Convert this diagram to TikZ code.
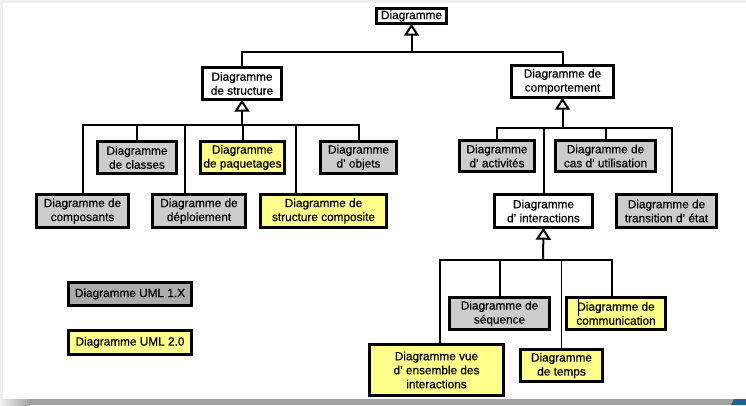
\documentclass[tikz,border=0pt]{standalone}
\usepackage{fontspec}
\setmainfont{Liberation Sans}
\newfontfamily\boxfont{Liberation Sans}[FakeBold=0.5]
\usetikzlibrary{arrows.meta}
\definecolor{umlgray}{HTML}{CCCCCC}
\definecolor{umlyellow}{HTML}{FFFF8C}
\definecolor{legendgray}{HTML}{ABABAB}
\definecolor{framegray}{HTML}{F0F0F0}
\definecolor{shadowgray}{HTML}{A2A2A2}
\definecolor{cornerblue}{HTML}{2B5F93}
\begin{document}
\begin{tikzpicture}[x=1pt,y=-1pt,
  box/.style={draw=black, line width=2.6pt, align=center, inner sep=0pt,
    outer sep=0pt, font=\boxfont\fontsize{11.8}{14}\selectfont},
  sz/.style 2 args={minimum width=#1pt-2.6pt, minimum height=#2pt-2.6pt},
  plain/.style={box, fill=white},
  old/.style={box, fill=umlgray},
  new/.style={box, fill=umlyellow},
  legold/.style={box, fill=legendgray},
  conn/.style={line width=2pt},
  thinconn/.style={line width=1.2pt},
  gen/.style={conn, -{Triangle[open, length=12pt, width=15pt]}}]
\useasboundingbox (0,0) rectangle (746,405);

% page frame
\fill[framegray] (0,0) rectangle (746,3);
\fill[framegray] (0,0) rectangle (3,399);
\fill[shadowgray] (0,399) rectangle (746,405);
\shade[left color=framegray, right color=shadowgray] (0,399) rectangle (30,405);
\fill[cornerblue] (731,405) -- (734,399) -- (746,399) -- (746,405) -- cycle;

% diagram kinds
\node[plain, sz={73}{18}] (top) at (411.5,16) {Diagramme};
\node[plain, sz={82}{35}] (struct) at (242,83.5) {Diagramme\\de structure};
\node[plain, sz={105}{35}] (behav) at (562.5,81.5) {Diagramme de\\comportement};

\node[old, sz={82}{35}] (classes) at (137,157.5) {Diagramme\\de classes};
\node[new, sz={87}{35}] (packages) at (242.5,157.5) {Diagramme\\de paquetages};
\node[old, sz={79}{35}] (objects) at (358.5,157.5) {Diagramme\\d’ objets};
\node[old, sz={95}{36}] (components) at (82.5,211) {Diagramme de\\composants};
\node[old, sz={96}{36}] (deploy) at (199,211) {Diagramme de\\déploiement};
\node[new, sz={129}{36}] (composite) at (323.5,211) {Diagramme de\\structure composite};

\node[old, sz={78}{34}] (activity) at (497,156) {Diagramme\\d’ activités};
\node[old, sz={103}{34}] (usecase) at (605.5,156) {Diagramme de\\cas d’ utilisation};
\node[plain, sz={101}{36}] (interact) at (543.5,211) {Diagramme\\d’ interactions};
\node[old, sz={103}{36}] (state) at (666.5,211) {Diagramme de\\transition d’ état};

\node[old, sz={103}{35}] (sequence) at (499.5,313.5) {Diagramme de\\séquence};
\node[new, sz={102}{35}] (comm) at (616,313.5) {Diagramme de\\communication};
\node[new, sz={137}{54}] (overview) at (436.5,370) {Diagramme vue\\d’ ensemble des\\interactions};
\node[new, sz={85}{35}] (timing) at (561.5,365.5) {Diagramme\\de temps};

% legend
\node[legold, sz={126}{26}] (leg1) at (130,294) {Diagramme UML 1.X};
\node[new, sz={126}{27}] (leg2) at (130,342.5) {Diagramme UML 2.0};

% text cursor in the communication box
\draw[line width=0.7pt] ([shift={(12,2)}]comm.north west) -- ++(0,17);

% generalisation: Diagramme
\coordinate (busT) at (411.5,52);
\draw[gen] (busT) -- (top.south);
\draw[conn] (struct.north) |- (busT);
\draw[conn] (behav.north) |- (busT);

% generalisation: structure
\coordinate (busS) at (242,125);
\draw[gen] (busS) -- (struct.south);
\draw[conn] (components.north) |- (busS);
\draw[conn] (classes.north) |- (busS);
\draw[conn] ([xshift=-14pt]deploy.north) |- (busS);
\draw[conn] (packages.north) |- (busS);
\draw[conn] ([xshift=-27.5pt]composite.north) |- (busS);
\draw[conn] (objects.north) |- (busS);

% generalisation: comportement
\coordinate (busB) at (562.5,128);
\draw[gen] (busB) -- (behav.south);
\draw[conn] (activity.north) |- (busB);
\draw[conn] (interact.north) |- (busB);
\draw[conn] (usecase.north) |- (busB);
\draw[conn] ([xshift=5.5pt]state.north) |- (busB);

% generalisation: interactions
\coordinate (busI) at (543,260);
\draw[gen] (busI) -- (interact.south);
\draw[conn] ([xshift=3.5pt]overview.north) |- (busI);
\draw[conn] (sequence.north) |- (busI);
\draw[thinconn] (timing.north) |- (busI);
\draw[conn] ([xshift=-4pt]comm.north) |- (busI);
\end{tikzpicture}
\end{document}
